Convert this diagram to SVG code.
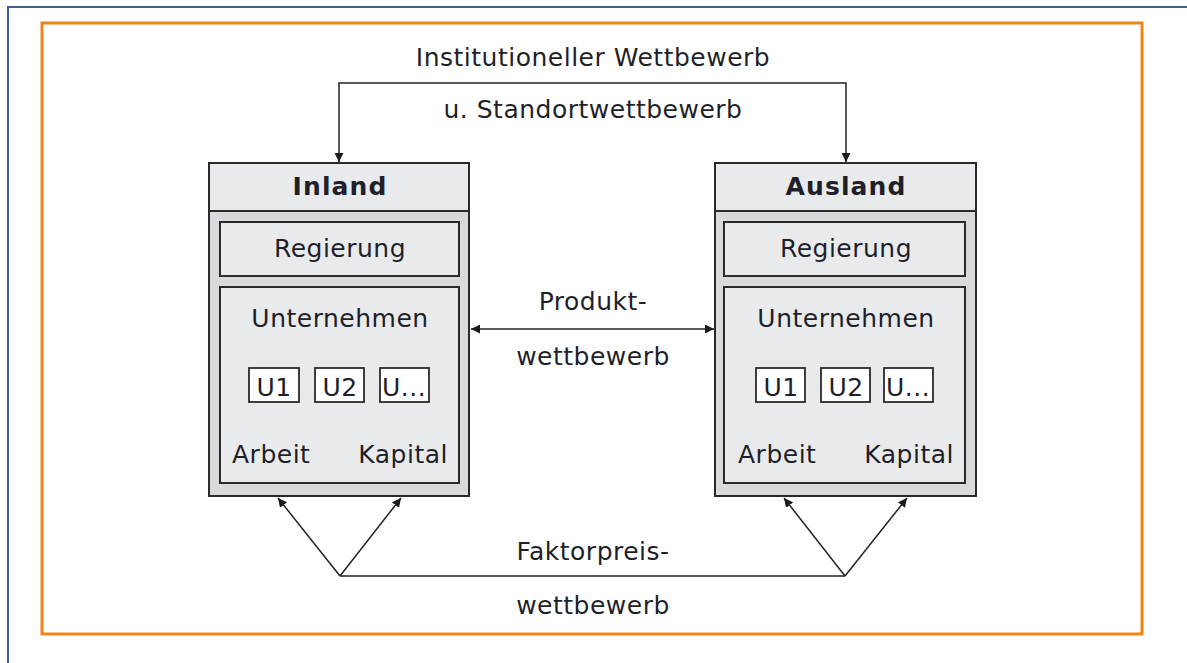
<svg xmlns="http://www.w3.org/2000/svg" width="1187" height="663" viewBox="0 0 1187 663">
<defs>
<marker id="ah" viewBox="0 0 10 10" refX="10" refY="5" markerWidth="9" markerHeight="9" markerUnits="userSpaceOnUse" orient="auto-start-reverse">
<path d="M0,0 L10,5 L0,10 z" fill="#1a1a1a"/>
</marker>
<style>
text{font-family:"DejaVu Sans","Verdana",sans-serif;fill:#1f1f2a;font-size:25px;letter-spacing:0.5px}
.c{text-anchor:middle}
.e{text-anchor:end}
.b{font-weight:bold;letter-spacing:1.1px}
.outer{fill:#d9dadc;stroke:#2a2a2a;stroke-width:2}
.head{fill:#e9eaec;stroke:#2a2a2a;stroke-width:2}
.inner{fill:#e9eaec;stroke:#2a2a2a;stroke-width:2}
.u{fill:#ffffff;stroke:#2a2a2a;stroke-width:1.8}
.ln{fill:none;stroke:#222;stroke-width:1.5}
</style>
</defs>
<rect width="1187" height="663" fill="#ffffff"/>
<path d="M8,663 L8,7 L1187,7" fill="none" stroke="#3b5f98" stroke-width="2"/>
<rect x="42" y="23" width="1100" height="611" fill="none" stroke="#f08416" stroke-width="3"/>

<g id="inland">
<rect class="outer" x="209" y="163" width="260" height="333"/>
<rect class="head" x="209" y="163" width="260" height="48"/>
<text class="c b" x="340" y="195">Inland</text>
<rect class="inner" x="220" y="222" width="239" height="54"/>
<text class="c" x="340" y="257">Regierung</text>
<rect class="inner" x="220" y="287" width="239" height="196"/>
<text class="c" x="340" y="327">Unternehmen</text>
<rect class="u" x="249" y="368" width="50" height="34"/>
<text class="c" x="274" y="396">U1</text>
<rect class="u" x="315" y="368" width="49" height="34"/>
<text class="c" x="340" y="396">U2</text>
<rect class="u" x="380" y="368" width="49" height="34"/>
<text x="382" y="396">U...</text>
<text x="232" y="463">Arbeit</text>
<text class="e" x="448" y="463">Kapital</text>
</g>

<g id="ausland">
<rect class="outer" x="715" y="163" width="261" height="333"/>
<rect class="head" x="715" y="163" width="261" height="48"/>
<text class="c b" x="846" y="195">Ausland</text>
<rect class="inner" x="724" y="222" width="241" height="54"/>
<text class="c" x="846" y="257">Regierung</text>
<rect class="inner" x="724" y="287" width="241" height="196"/>
<text class="c" x="846" y="327">Unternehmen</text>
<rect class="u" x="756" y="368" width="49" height="34"/>
<text class="c" x="781" y="396">U1</text>
<rect class="u" x="821" y="368" width="49" height="34"/>
<text class="c" x="846" y="396">U2</text>
<rect class="u" x="884" y="368" width="49" height="34"/>
<text x="886" y="396">U...</text>
<text x="738" y="463">Arbeit</text>
<text class="e" x="954" y="463">Kapital</text>
</g>

<g id="connectors">
<path class="ln" d="M339,162 L339,83 L846,83 L846,162" marker-start="url(#ah)" marker-end="url(#ah)"/>
<line class="ln" x1="471" y1="329" x2="714" y2="329" marker-start="url(#ah)" marker-end="url(#ah)"/>
<line class="ln" x1="340" y1="576" x2="845" y2="576"/>
<line class="ln" x1="340" y1="576" x2="278" y2="498" marker-end="url(#ah)"/>
<line class="ln" x1="340" y1="576" x2="401" y2="498" marker-end="url(#ah)"/>
<line class="ln" x1="845" y1="576" x2="784" y2="498" marker-end="url(#ah)"/>
<line class="ln" x1="845" y1="576" x2="907" y2="498" marker-end="url(#ah)"/>
</g>

<g id="labels">
<text class="c" x="593" y="66">Institutioneller Wettbewerb</text>
<text class="c" x="593" y="118">u. Standortwettbewerb</text>
<text class="c" x="593" y="310">Produkt-</text>
<text class="c" x="593" y="365">wettbewerb</text>
<text class="c" x="593" y="560">Faktorpreis-</text>
<text class="c" x="593" y="614">wettbewerb</text>
</g>
</svg>
